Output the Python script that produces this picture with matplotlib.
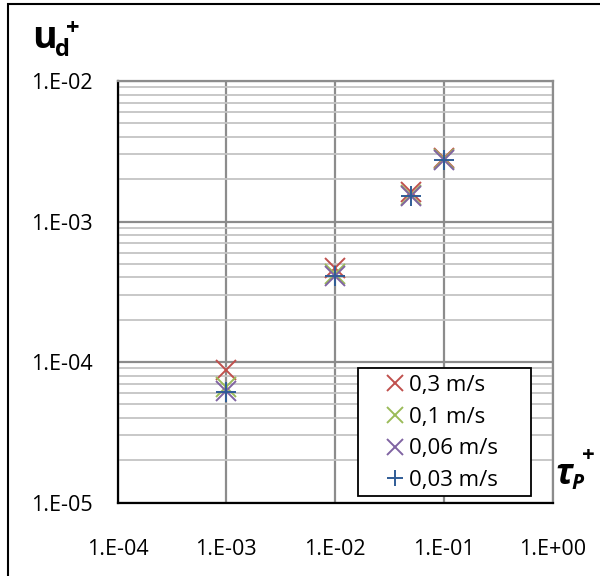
import matplotlib
matplotlib.use("Agg")
import matplotlib.pyplot as plt
from matplotlib.ticker import LogLocator, NullFormatter, FixedLocator
from matplotlib.patches import Rectangle

plt.rcParams['font.family'] = ['Open Sans', 'DejaVu Sans']

# Data
series_labels = ["0,3 m/s", "0,1 m/s", "0,06 m/s", "0,03 m/s"]
tau_p = [1e-3, 1e-2, 0.05, 0.1]
u_03 = [8.8e-5, 4.65e-4, 1.62e-3, 2.85e-3]
u_01 = [6.6e-5, 4.2e-4, 1.55e-3, 2.78e-3]
u_006 = [6.2e-5, 4.1e-4, 1.53e-3, 2.76e-3]
u_003 = [6.1e-5, 4.08e-4, 1.51e-3, 2.76e-3]
series_values = [u_03, u_01, u_006, u_003]
colors = ["#C0504D", "#9BBB59", "#8064A2", "#2F5C96"]
markers = ["x", "x", "x", "+"]
x_ticks = [1e-4, 1e-3, 1e-2, 1e-1, 1e0]
x_ticklabels = ["1.E-04", "1.E-03", "1.E-02", "1.E-01", "1.E+00"]
y_ticks = [1e-5, 1e-4, 1e-3, 1e-2]
y_ticklabels = ["1.E-05", "1.E-04", "1.E-03", "1.E-02"]

W, H = 600, 576
fig = plt.figure(figsize=(W / 100, H / 100), dpi=100)
left, right, top, bottom = 117.5, 552.5, 81, 502.5
ax = fig.add_axes([left / W, 1 - bottom / H, (right - left) / W, (bottom - top) / H])


def fx(px):
    return px / W


def fy(py):
    return 1 - py / H


# figure border
fig.patches.append(Rectangle((fx(8), -0.1), 1.2, fy(4) + 0.1, transform=fig.transFigure,
                             fill=False, edgecolor="black", linewidth=1.5))

ax.set_xscale("log")
ax.set_yscale("log")
ax.set_xlim(1e-4, 1e0)
ax.set_ylim(1e-5, 1e-2)

ax.xaxis.set_major_locator(FixedLocator(x_ticks))
ax.set_xticklabels(x_ticklabels)
ax.xaxis.set_minor_locator(FixedLocator([]))
ax.yaxis.set_major_locator(FixedLocator(y_ticks))
ax.set_yticklabels(y_ticklabels)
ax.yaxis.set_minor_locator(LogLocator(base=10, subs=range(2, 10)))
ax.yaxis.set_minor_formatter(NullFormatter())

ax.grid(True, which="major", color="#8c8c8c", linewidth=1.6)
ax.grid(True, which="minor", axis="y", color="#c4c4c4", linewidth=1.3)
ax.set_axisbelow(True)

ax.tick_params(which="both", length=0, labelsize=15.5, colors="black")
ax.tick_params(axis="x", pad=26)
ax.tick_params(axis="y", pad=18)

for s in ["top", "right"]:
    ax.spines[s].set_color("#8c8c8c")
    ax.spines[s].set_linewidth(1.6)
for s in ["left", "bottom"]:
    ax.spines[s].set_color("black")
    ax.spines[s].set_linewidth(1.6)

for vals, c, m, lab in zip(series_values, colors, markers, series_labels):
    ax.plot(tau_p, vals, linestyle="none", marker=m, color=c, markersize=14,
            markeredgewidth=1.4, label=lab, zorder=3)

# legend frame drawn manually (Excel-style padding)
fig.patches.append(Rectangle((fx(358), fy(496)), fx(531) - fx(358), fy(368) - fy(496),
                             transform=fig.transFigure, facecolor="white",
                             edgecolor="black", linewidth=1.3, zorder=4))
leg = fig.legend(*ax.get_legend_handles_labels(), loc="center left",
                 bbox_to_anchor=(fx(386), fy(433)),
                 fontsize=16, frameon=False,
                 handlelength=0.8, handletextpad=0.25, borderpad=0, labelspacing=0.48,
                 borderaxespad=0, markerscale=0.85)
leg.set_zorder(5)

# axis titles
bold = dict(fontweight="bold", color="black")
fig.text(fx(32), fy(48), "u", fontsize=27, ha="left", va="baseline", **bold)
fig.text(fx(55), fy(56), "d", fontsize=17, ha="left", va="baseline", **bold)
fig.text(fx(66), fy(35), "+", fontsize=17, ha="left", va="baseline", **bold)

fig.text(fx(555), fy(484), "τ", fontsize=25, ha="left", va="baseline", fontstyle="italic", **bold)
fig.text(fx(571), fy(489), "P", fontsize=15, ha="left", va="baseline", fontstyle="italic", **bold)
fig.text(fx(582), fy(461), "+", fontsize=16, ha="left", va="baseline", **bold)

fig.savefig("out.png", dpi=100)
